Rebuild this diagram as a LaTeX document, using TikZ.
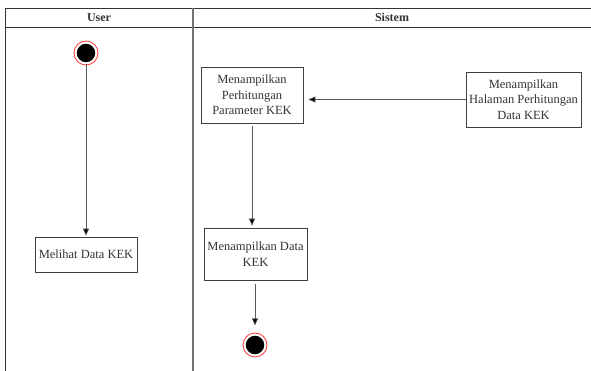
\documentclass[tikz,border=0pt]{standalone}
\usepackage{fontspec}
\setmainfont{Liberation Serif}
\usetikzlibrary{arrows.meta}
\begin{document}
\begin{tikzpicture}[x=1pt,y=-1pt,
  lane/.style={draw=black!80,line width=0.8pt},
  divider/.style={draw=black!55,line width=1.6pt},
  action/.style={draw=black!75,line width=0.7pt,fill=white,align=center,
    inner sep=1pt,font=\fontsize{12.5}{15.5}\selectfont,text=black!80},
  flow/.style={draw=black!65,line width=0.7pt,-{Triangle[length=7pt,width=6pt,fill=black]}},
  startnode/.style={circle,fill=black,draw=white,line width=1.2pt,minimum size=20pt,inner sep=0pt,
    append after command={node[circle,draw=red!80,line width=0.8pt,minimum size=24pt,inner sep=0pt] at (\tikzlastnode.center) {}}},
  header/.style={font=\bfseries\fontsize{12}{14}\selectfont,text=black!80}
]
\useasboundingbox (0,0) rectangle (591,371);
% swimlane frame
\draw[lane] (5,371) -- (5,8) -- (591,8);
\draw[lane] (5,27) -- (591,27);
\draw[divider] (193,8) -- (193,371);
\node[header] (hUser) at (99,17.5) {User};
\node[header] (hSistem) at (392,17.5) {Sistem};

% actions
\node[startnode] (start) at (86,53) {};
\node[action,minimum width=102pt,minimum height=35pt] (melihat) at (86,254.5) {Melihat Data KEK};
\node[action,minimum width=115pt,minimum height=55pt] (halaman) at (523.5,99.5) {Menampilkan\\Halaman Perhitungan\\Data KEK};
\node[action,minimum width=102pt,minimum height=56pt] (param) at (252,95) {Menampilkan\\Perhitungan\\Parameter KEK};
\node[action,minimum width=103pt,minimum height=52pt] (data) at (255.5,254) {Menampilkan Data\\KEK};
\node[startnode] (end) at (255,345) {};

% control flow
\draw[flow] (start.south) -- ([yshift=1pt]melihat.north);
\draw[flow] (halaman.west) -- ([xshift=5pt]param.east |- halaman.west);
\draw[flow] ([yshift=-3pt]param.south) -- ([yshift=2pt]data.north -| param.south);
\draw[flow] ([yshift=-4pt]data.south -| end.north) -- ([yshift=9pt]end.north);
\end{tikzpicture}
\end{document}
